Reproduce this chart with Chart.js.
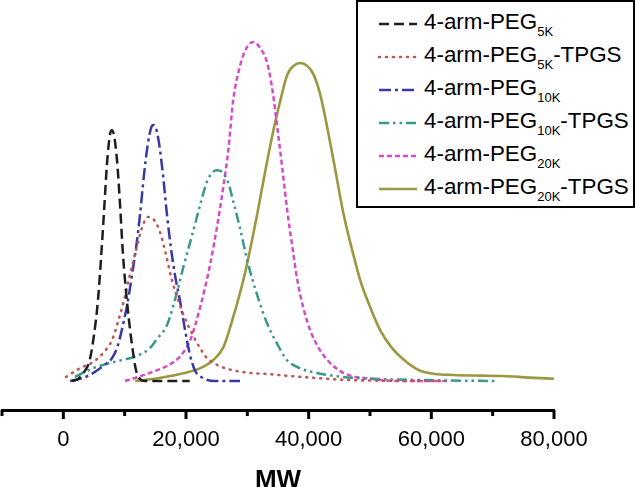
<!DOCTYPE html>
<html>
<head>
<meta charset="utf-8">
<script src="https://cdn.jsdelivr.net/npm/chart.js@4"></script>
<style>
  html, body { margin: 0; padding: 0; background: #fff; }
  #wrap { position: relative; width: 636px; height: 487px; overflow: hidden; }
  #legend { position: absolute; left: 356px; top: 0px; width: 279px; height: 208px; box-sizing: border-box;
    border: 2px solid #000; background: #fff; font-family: 'Liberation Sans', Arial, sans-serif; color: #000; }
  .row { position: absolute; left: 0; height: 30px; width: 100%; }
  .row svg { position: absolute; left: 20px; top: 0; }
  .row .lbl { position: absolute; left: 66px; top: 0; font-size: 22.4px; line-height: 30px; white-space: nowrap; }
  .row .lbl sub { font-size: 13px; vertical-align: -7px; line-height: 0; }
</style>
</head>
<body>
<div id="wrap">
  <canvas id="c" width="636" height="487"></canvas>
  <div id="legend"></div>
</div>
<script>
// ---- data (MW, relative intensity) ----
const peg5kMW   = [1400, 2400, 3400, 4300, 5000, 5650, 6150, 6650, 7100, 7600, 7900, 8250, 8750, 9250, 9700, 10200, 10700, 11200, 11850, 12500, 13300, 20600];
const peg5kI    = [0, 0.6, 2.7, 6.2, 13.6, 23.9, 36.3, 50.4, 63.7, 72.6, 74.0, 72.6, 65.2, 51.9, 38.0, 26.8, 18.0, 10.6, 3.2, 0.6, 0, 0];

const peg5kTMW  = [440, 2700, 4850, 6650, 7950, 8900, 9900, 10850, 11850, 12800, 13800, 14800, 15750, 16750, 17700, 18700, 19800, 21100, 22300, 23400, 25500, 27650, 30400, 33200, 36900, 41300, 46700, 61400];
const peg5kTI   = [1.2, 3.8, 5.6, 8.6, 12.1, 17.4, 23.9, 31.3, 38.6, 45.1, 48.4, 47.5, 44.0, 37.2, 29.8, 23.9, 18.6, 13.6, 9.7, 6.8, 4.4, 3.2, 2.4, 2.1, 1.5, 0.9, 0.3, 0];

const peg10kMW  = [1100, 3200, 5150, 6650, 7950, 8900, 9900, 10550, 11200, 11850, 12500, 13150, 13800, 14300, 14650, 15100, 15600, 16250, 16900, 17550, 18200, 19000, 19850, 20650, 21450, 22750, 24700, 28800];
const peg10kI   = [0, 0.9, 2.7, 4.7, 6.8, 10.6, 18.0, 23.9, 31.3, 39.2, 49.0, 60.8, 70.2, 74.6, 75.5, 74.6, 70.2, 60.8, 49.0, 39.2, 31.3, 23.9, 15.0, 7.7, 3.2, 0.9, 0, 0];

const peg10kTMW = [1900, 4850, 7600, 9550, 12000, 14100, 15400, 16900, 18500, 19650, 21100, 22300, 23400, 24400, 25050, 25850, 26850, 27650, 28800, 30100, 31700, 33200, 34800, 36450, 38550, 41350, 45550, 51600, 58100, 70650];
const peg10kTI  = [1.2, 3.8, 5.3, 6.2, 7.4, 9.7, 12.7, 16.5, 26.0, 34.2, 43.7, 51.9, 58.7, 61.7, 62.2, 61.7, 58.7, 53.4, 45.1, 34.8, 24.8, 17.1, 11.2, 6.2, 3.8, 2.4, 1.2, 0.6, 0.3, 0];

const peg20kMW  = [10050, 13650, 17450, 19100, 20700, 22350, 23950, 25100, 26100, 26900, 27700, 28850, 29850, 31000, 32100, 33250, 34100, 34900, 35700, 36500, 37350, 38150, 39100, 40250, 41550, 43050, 45650, 50550, 54900, 63100];
const peg20kI   = [0, 2.1, 5.0, 7.4, 12.1, 22.1, 34.5, 46.0, 57.5, 68.1, 82.9, 93.2, 98.2, 100, 98.2, 93.8, 85.8, 74.6, 62.8, 50.4, 39.5, 29.8, 21.8, 15.0, 10.0, 6.2, 2.4, 0.6, 0, 0];

const peg20kTMW = [11700, 15650, 19750, 22350, 24450, 26100, 27700, 29350, 30500, 31650, 32950, 34250, 35400, 36500, 37500, 38650, 39800, 40750, 41900, 43050, 44350, 45650, 47100, 48400, 49700, 51650, 53600, 55750, 58000, 60650, 63550, 67950, 71700, 76100, 80000];
const peg20kTI  = [0, 0.9, 2.4, 3.8, 6.2, 10.0, 18.9, 29.8, 39.2, 49.6, 62.2, 74.0, 82.9, 90.3, 92.9, 93.8, 92.9, 90.6, 84.4, 74.6, 62.2, 49.6, 38.6, 29.8, 23.3, 15.0, 9.7, 5.9, 3.2, 2.1, 1.8, 1.6, 1.5, 1.0, 0.7];

const seriesNames = ['4-arm-PEG|5K|', '4-arm-PEG|5K|-TPGS', '4-arm-PEG|10K|', '4-arm-PEG|10K|-TPGS', '4-arm-PEG|20K|', '4-arm-PEG|20K|-TPGS'];
const seriesLabels = ['4-arm-PEG5K', '4-arm-PEG5K-TPGS', '4-arm-PEG10K', '4-arm-PEG10K-TPGS', '4-arm-PEG20K', '4-arm-PEG20K-TPGS'];

const tickValues = [-10000, 0, 10000, 20000, 30000, 40000, 50000, 60000, 70000, 80000];
const tickLabels = ['', '0', '', '20,000', '', '40,000', '', '60,000', '', '80,000'];
const majorTicks = [0, 20000, 40000, 60000, 80000];

// ---- styles ----
const styles = [
  { color: '#1e1e1e', dash: [10, 5], cap: 'butt', width: 2.5 },
  { color: '#c0585a', dash: [1, 6], cap: 'round', width: 2.6 },
  { color: '#3838a6', dash: [12, 4, 3, 4], cap: 'butt', width: 2.5 },
  { color: '#38988a', dash: [10, 4, 2.5, 4, 2.5, 4], cap: 'butt', width: 2.5 },
  { color: '#d64cc6', dash: [5, 3], cap: 'butt', width: 2.5 },
  { color: '#9a9840', dash: [], cap: 'butt', width: 2.6 }
];

const xs = [peg5kMW, peg5kTMW, peg10kMW, peg10kTMW, peg20kMW, peg20kTMW];
const ys = [peg5kI, peg5kTI, peg10kI, peg10kTI, peg20kI, peg20kTI];

const datasets = xs.map((xArr, i) => ({
  label: seriesLabels[i],
  data: xArr.map((x, j) => ({ x: x, y: ys[i][j] })),
  borderColor: styles[i].color,
  borderDash: styles[i].dash,
  borderCapStyle: styles[i].cap,
  borderWidth: styles[i].width,
  pointRadius: 0,
  fill: false,
  cubicInterpolationMode: 'monotone',
  clip: false
}));

const tickPlugin = {
  id: 'ticksMajorMinor',
  afterDraw(chart) {
    const s = chart.scales.x;
    const y0 = chart.chartArea.bottom;
    const ctx = chart.ctx;
    ctx.save();
    ctx.strokeStyle = '#000';
    ctx.lineWidth = 3;
    tickValues.forEach(v => {
      const x = s.getPixelForValue(v);
      const len = majorTicks.includes(v) ? 9 : 6;
      ctx.beginPath();
      ctx.moveTo(x, y0);
      ctx.lineTo(x, y0 + len);
      ctx.stroke();
    });
    ctx.restore();
  }
};

new Chart(document.getElementById('c'), {
  type: 'line',
  data: { datasets },
  options: {
    responsive: false,
    animation: false,
    layout: { padding: { left: 2, right: 82, top: 0, bottom: 0 } },
    plugins: { legend: { display: false }, tooltip: { enabled: false } },
    scales: {
      x: {
        type: 'linear',
        min: -10000, max: 80000,
        afterBuildTicks: (scale) => { scale.ticks = tickValues.map(v => ({ value: v })); },
        ticks: {
          autoSkip: false, maxRotation: 0, padding: 2, color: '#000',
          font: { family: "'Liberation Sans', Arial, sans-serif", size: 22, lineHeight: 1 },
          callback: (v) => { const k = tickValues.indexOf(v); return k >= 0 ? tickLabels[k] : ''; }
        },
        grid: { drawOnChartArea: false, drawTicks: true, tickLength: 17, tickColor: 'rgba(0,0,0,0)' },
        border: { display: true, color: '#000', width: 3 },
        title: {
          display: true, text: 'MW', color: '#000',
          font: { family: "'Liberation Sans', Arial, sans-serif", size: 26, weight: 'bold', lineHeight: 0.46 },
          padding: { top: 22, bottom: 0 }
        }
      },
      y: { type: 'linear', display: false, min: -8.55, max: 112.4 }
    }
  },
  plugins: [tickPlugin]
});

// ---- HTML legend with subscripts ----
const legend = document.getElementById('legend');
const rowCenters = [22, 55, 88, 121, 154, 187];
seriesNames.forEach((name, i) => {
  const parts = name.split('|');
  const row = document.createElement('div');
  row.className = 'row';
  row.style.top = (rowCenters[i] - 2 - 15) + 'px';
  const st = styles[i];
  const dash = st.dash.length ? st.dash.join(',') : 'none';
  row.innerHTML =
    '<svg width="40" height="30"><line x1="1" y1="17" x2="39" y2="17" stroke="' + st.color +
    '" stroke-width="' + st.width + '" stroke-dasharray="' + dash + '" stroke-linecap="' + st.cap + '"/></svg>' +
    '<span class="lbl">' + parts[0] + '<sub>' + parts[1] + '</sub>' + parts[2] + '</span>';
  legend.appendChild(row);
});
</script>
</body>
</html>
